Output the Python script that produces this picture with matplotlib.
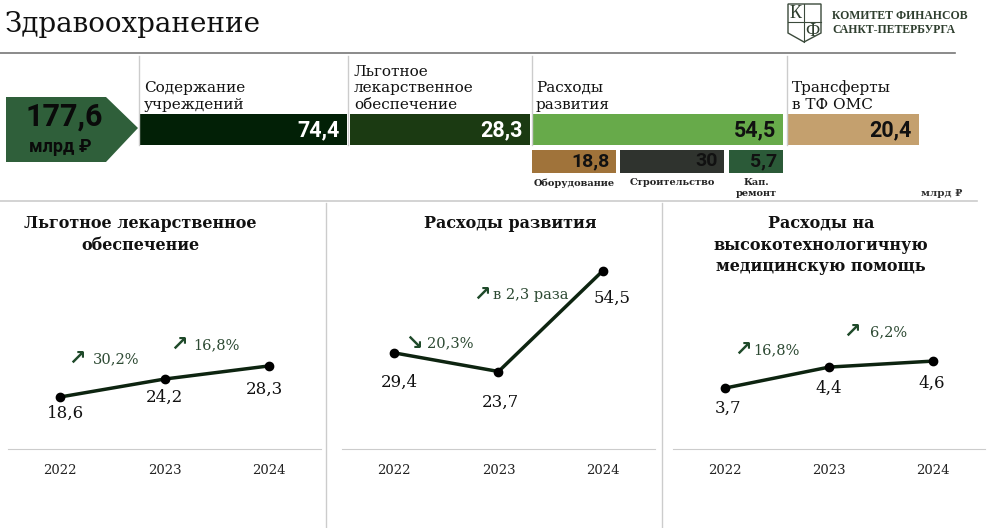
import matplotlib
matplotlib.use('Agg')
import matplotlib.pyplot as plt
from matplotlib.patches import Polygon

# --- данные ---
total = 177.6
main_labels = ['Содержание\nучреждений', 'Льготное\nлекарственное\nобеспечение',
               'Расходы\nразвития', 'Трансферты\nв ТФ ОМС']
main_values = [74.4, 28.3, 54.5, 20.4]
dev_labels = ['Оборудование', 'Строительство', 'Кап.\nремонт']
dev_values = [18.8, 30, 5.7]

years = ['2022', '2023', '2024']
drug_values = [18.6, 24.2, 28.3]
develop_values = [29.4, 23.7, 54.5]
hitech_values = [3.7, 4.4, 4.6]
drug_growth = [('↗', '30,2%'), ('↗', '16,8%')]
develop_growth = [('↘', '20,3%'), ('↗', 'в 2,3 раза')]
hitech_growth = [('↗', '16,8%'), ('↗', '6,2%')]

# --- оформление ---
SERIF = ['DejaVu Serif']
SANS = ['Roboto', 'DejaVu Sans']
DARK_GREEN = '#1f4a2a'

main_colors = ['#022006', '#1b3a12', '#67aa4a', '#c4a06e']
main_text = ['white', 'white', '#111111', '#111111']
main_left = [140, 350, 532, 788]
main_right = [347, 530, 783, 919]
dev_colors = ['#a0733a', '#2f332e', '#2b5a38']
dev_left = [532, 620, 729]
dev_right = [616, 724, 783]


def fmt(v):
    s = f'{v:.1f}'.replace('.', ',')
    return s[:-2] if s.endswith(',0') else s


fig = plt.figure(figsize=(9.9, 5.28), dpi=100)
bg = fig.add_axes([0, 0, 1, 1])
bg.set_xlim(0, 990)
bg.set_ylim(528, 0)
bg.axis('off')

# заголовок и разделители
bg.text(5, 25, 'Здравоохранение', fontsize=20, family=SERIF, va='center', color='#111111')
bg.plot([0, 955], [53, 53], color='#777777', lw=1.2)
bg.plot([0, 977], [201, 201], color='#cccccc', lw=1.2)
for x in [139, 348, 532, 787]:
    bg.plot([x, x], [56, 145], color='#cccccc', lw=1)
for x in [326, 662]:
    bg.plot([x, x], [203, 528], color='#cccccc', lw=1)

# логотип
bg.add_patch(Polygon([(788, 4), (821, 4), (821, 33), (804, 42), (788, 33)],
                     closed=True, fill=False, ec='#3b4a3b', lw=1))
bg.plot([804, 804], [4, 42], color='#3b4a3b', lw=0.8)
bg.plot([788, 821], [22, 22], color='#3b4a3b', lw=0.8)
bg.text(796, 14, 'К', fontsize=13, family=['Liberation Serif'], ha='center', va='center', color='#2f3f2f')
bg.text(812, 31, 'Ф', fontsize=13, family=['Liberation Serif'], ha='center', va='center', color='#2f3f2f')
bg.text(832, 23, 'КОМИТЕТ ФИНАНСОВ\nСАНКТ-ПЕТЕРБУРГА', fontsize=8.5, family=['Liberation Serif'],
        weight='bold', va='center', color='#2f3f2f', linespacing=1.2)

# итоговый бейдж
bg.add_patch(Polygon([(6, 97), (106, 97), (138, 128), (106, 162), (6, 162)], closed=True,
                     fc='#2f5f3a', ec='none'))
bg.text(64, 117, fmt(total), fontsize=22, family=SANS, weight='bold', ha='center', va='center',
        color='#0a0a0a')
bg.text(60, 147, 'млрд ₽', fontsize=13, family=SANS, weight='bold', ha='center', va='center',
        color='#0a0a0a')

# основные статьи
for lab, val, col, tc, l, r in zip(main_labels, main_values, main_colors, main_text,
                                   main_left, main_right):
    bg.barh(129.5, r - l, left=l, height=31, color=col)
    bg.text(r - 7, 130, fmt(val), fontsize=15.5, family=SANS, weight='bold', ha='right',
            va='center', color=tc)
    bg.text(l + 4, 112, lab, fontsize=11, family=SERIF, va='bottom', color='#111111',
            linespacing=1.25)

# расходы развития по направлениям
for lab, val, col, l, r in zip(dev_labels, dev_values, dev_colors, dev_left, dev_right):
    bg.barh(161.5, r - l, left=l, height=23, color=col)
    bg.text(r - 6, 161, fmt(val), fontsize=14, family=SANS, weight='bold', ha='right',
            va='center', color='#111111')
    bg.text((l + r) / 2, 178, lab, fontsize=7, family=SERIF, weight='bold', ha='center',
            va='top', color='#222222', linespacing=1.25)
bg.text(942, 194, 'млрд ₽', fontsize=7.5, family=SERIF, weight='bold', ha='center',
        va='center', color='#333333')

# нижние графики
panels = [
    dict(title='Льготное лекарственное\nобеспечение', tx=140, values=drug_values,
         growth=drug_growth, x0=8, x1=321, ylim=(2.35, 61.4),
         offs=[(5, -16), (0, -18), (-4, -23)],
         gpos=[(77, 93, 359), (179, 193, 345)]),
    dict(title='Расходы развития', tx=510, values=develop_values,
         growth=develop_growth, x0=342, x1=655, ylim=(0, 57.8),
         offs=[(5, -29), (2, -31), (9, -28)],
         gpos=[(414, 427, 343), (482, 493, 295)]),
    dict(title='Расходы на\nвысокотехнологичную\nмедицинскую помощь', tx=821, values=hitech_values,
         growth=hitech_growth, x0=673, x1=985, ylim=(1.67, 7.97),
         offs=[(3, -20), (0, -21), (-1, -22)],
         gpos=[(743, 753, 350), (852, 870, 332)]),
]

for p in panels:
    bg.text(p['tx'], 215, p['title'], fontsize=11.5, family=SERIF, weight='bold',
            ha='center', va='top', color='#111111', linespacing=1.35)
    ax = fig.add_axes([p['x0'] / 990, (528 - 449) / 528, (p['x1'] - p['x0']) / 990, 189 / 528])
    ax.set_facecolor('none')
    xs = range(len(years))
    ax.plot(xs, p['values'], color='#0d2410', lw=2.5, marker='o', ms=6,
            mfc='black', mec='black', zorder=3)
    for x, v, (dx, dy) in zip(xs, p['values'], p['offs']):
        ax.annotate(fmt(v), (x, v), xytext=(dx, dy), textcoords='offset pixels',
                    ha='center', va='center', fontsize=12, family=SERIF, color='#111111')
    ax.set_xlim(-0.5, 2.5)
    ax.set_ylim(*p['ylim'])
    ax.set_xticks(list(xs))
    ax.set_xticklabels(years, fontsize=9.5, family=SERIF, color='#222222')
    ax.tick_params(axis='x', length=0, pad=11)
    ax.set_yticks([])
    for s in ['top', 'left', 'right']:
        ax.spines[s].set_visible(False)
    ax.spines['bottom'].set_color('#cccccc')
    for (arrow, txt), (ax_x, tx_x, y) in zip(p['growth'], p['gpos']):
        bg.text(ax_x, y, arrow, fontsize=15, family=['DejaVu Sans'], weight='bold',
                ha='center', va='center', color=DARK_GREEN)
        bg.text(tx_x, y, txt, fontsize=10.5, family=SERIF, ha='left', va='center',
                color='#2d4a33')

fig.savefig('out.png', dpi=100)
